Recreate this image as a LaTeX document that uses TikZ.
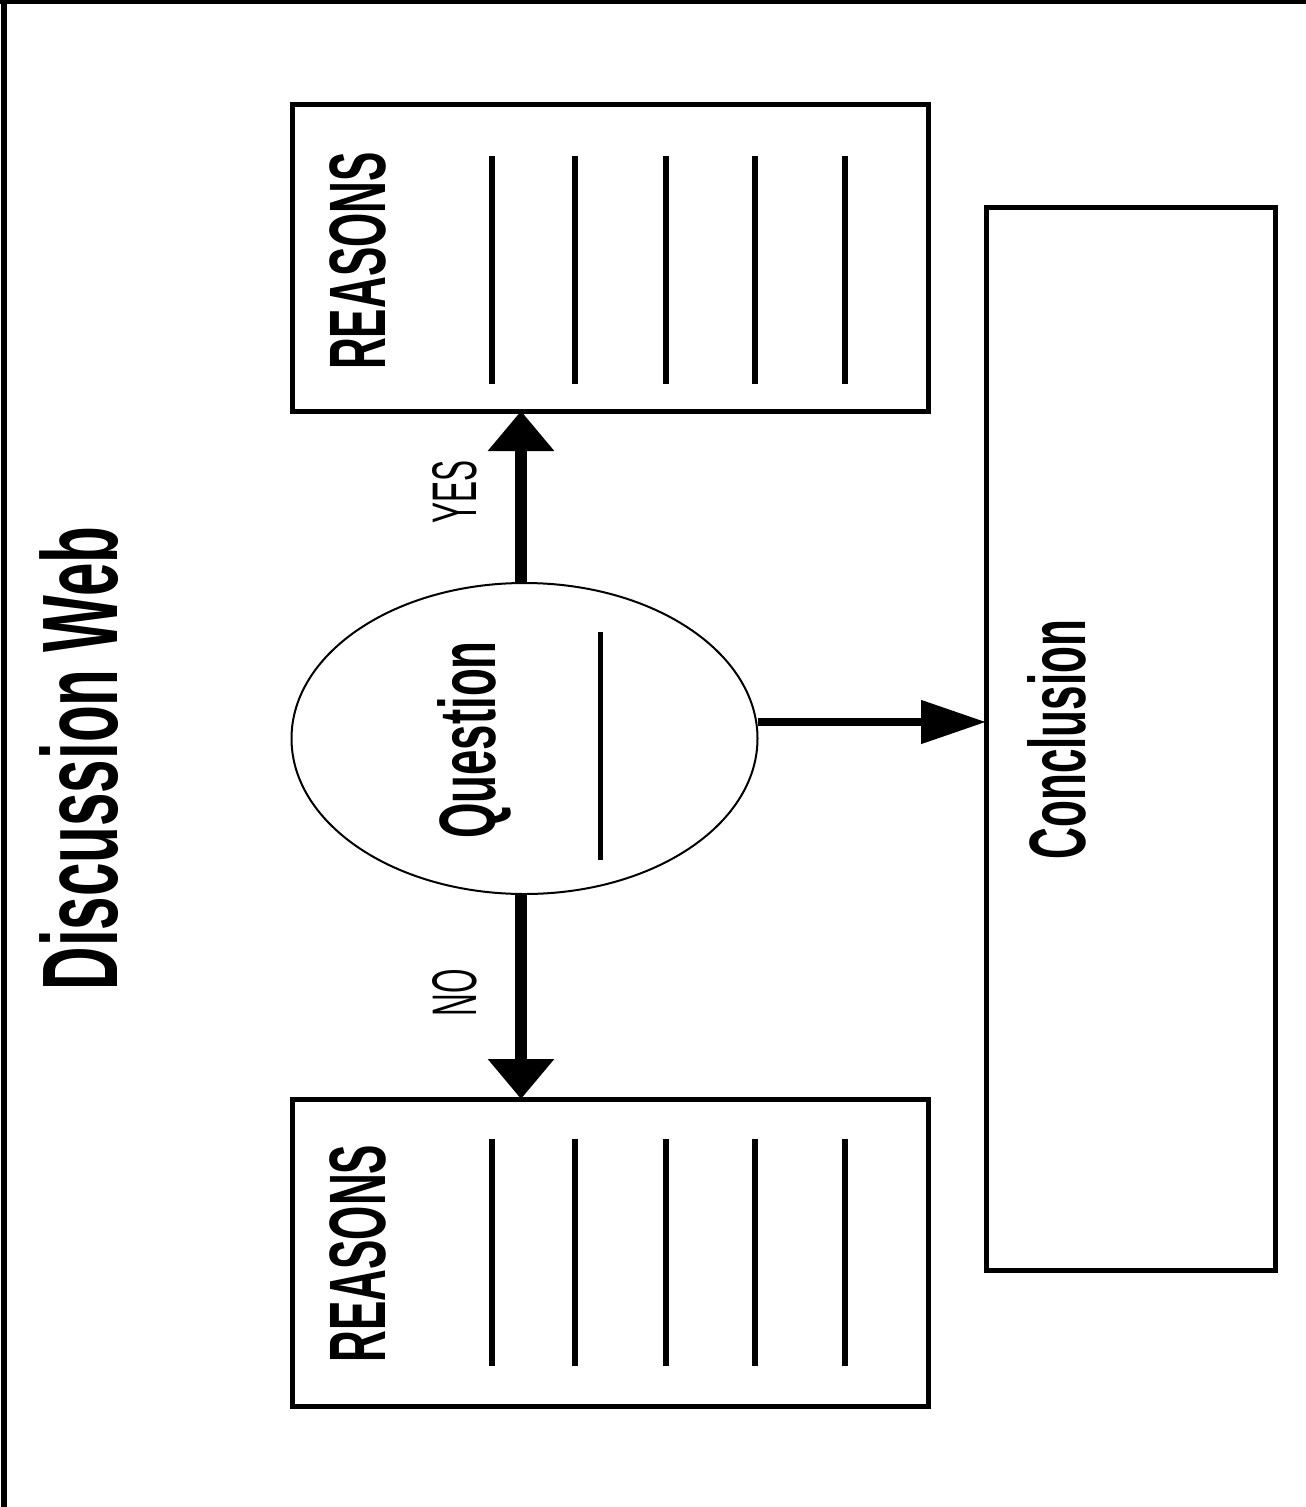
\documentclass[tikz,border=0pt]{standalone}
\usepackage{fontspec}
\setmainfont{Liberation Sans}
\newfontfamily\fT[FakeStretch=0.56]{Liberation Sans Bold}
\newfontfamily\fR[FakeStretch=0.55]{Liberation Sans Bold}
\newfontfamily\fQ[FakeStretch=0.57]{Liberation Sans Bold}
\newfontfamily\fC[FakeStretch=0.55]{Liberation Sans Bold}
\newfontfamily\fY[FakeStretch=0.50]{Liberation Sans}
\usetikzlibrary{shapes.geometric,arrows.meta}
\begin{document}
\begin{tikzpicture}[x=1pt,y=1pt,
  box/.style={draw, line width=5pt, inner sep=0pt, outer sep=0pt},
  qshape/.style={draw, ellipse, line width=2pt, inner sep=0pt, outer sep=0pt,
                 minimum width=466pt, minimum height=311pt},
  lbl/.style={inner sep=0pt, anchor=base, rotate=90},
  rule/.style={line width=6pt},
  bigarrow/.style={line width=12pt, -{Triangle[length=40pt,width=64pt]}},
  sidearrow/.style={line width=8pt, -{Triangle[length=65pt,width=42pt]}}]
\useasboundingbox (0,0) rectangle (1306,-1507);
% outer frame (left and top edges)
\draw[line width=6pt] (4,0) -- (4,-1507);
\draw[line width=3.5pt] (0,-1.75) -- (1306,-1.75);
% title
\node[lbl] (title) at (117,-758.5) {\fT\fontsize{107.5}{110}\selectfont Discussion Web};
% boxes
\node[box, minimum width=635.5pt, minimum height=307pt] (top) at (610.25,-257.5) {};
\node[box, minimum width=635.5pt, minimum height=307pt] (bot) at (610.25,-1252.5) {};
\node[box, minimum width=289pt, minimum height=1062.5pt] (concl) at (1130.5,-738.75) {};
\node[qshape] (q) at (524.5,-738.5) {};
% labels
\node[lbl] (rtop) at (385,-261) {\fR\fontsize{80}{82}\selectfont REASONS};
\node[lbl] (rbot) at (385,-1253.5) {\fR\fontsize{80}{82}\selectfont REASONS};
\node[lbl] (qt) at (495,-740) {\fQ\fontsize{80}{82}\selectfont Question};
\node[lbl] (ct) at (1085,-739.5) {\fC\fontsize{80}{82}\selectfont Conclusion};
\node[lbl] (yes) at (476,-492) {\fY\fontsize{63}{65}\selectfont YES};
\node[lbl] (no) at (476,-992.5) {\fY\fontsize{63}{65}\selectfont NO};
% writing lines
\foreach \xx in {492,575.3,665.7,755,845} {
  \draw[rule] (\xx,-156) -- (\xx,-384);
  \draw[rule] (\xx,-1139) -- (\xx,-1366);
}
\draw[line width=5pt] (600.5,-632) -- (600.5,-860);
% connectors
\coordinate (qn) at ([xshift=-3.5pt]q.north);
\coordinate (qs) at ([xshift=-3.5pt]q.south);
\coordinate (qe) at ([yshift=16.5pt]q.east);
\draw[bigarrow] (qn) -- (qn |- top.south);
\draw[bigarrow] (qs) -- (qs |- bot.north);
\draw[sidearrow] (qe) -- (qe -| concl.west);
\end{tikzpicture}
\end{document}
